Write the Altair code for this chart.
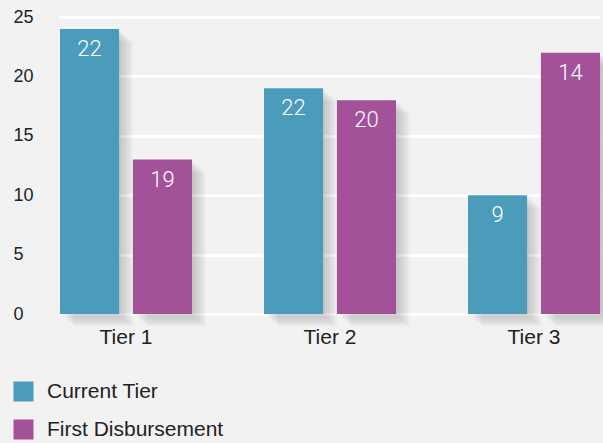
import altair as alt
import pandas as pd

tiers = ["Tier 1", "Tier 2", "Tier 3"]
series = ["Current Tier", "First Disbursement"]
current_heights = [24, 19, 10]
first_heights = [13, 18, 22]
current_labels = [22, 22, 9]
first_labels = [19, 20, 14]
colors = ["#4b9bbb", "#a35299"]

rows = []
for i, t in enumerate(tiers):
    rows.append({"tier": t, "series": series[0], "value": current_heights[i], "label": str(current_labels[i])})
    rows.append({"tier": t, "series": series[1], "value": first_heights[i], "label": str(first_labels[i])})
df = pd.DataFrame(rows)

FONT = "Liberation Sans"
BAND = 132  # pixel width of one tier group on the x band scale

x = alt.X("tier:N", sort=tiers, title=None,
          scale=alt.Scale(paddingInner=0.353, paddingOuter=0),
          axis=alt.Axis(labelAngle=0, labelFontSize=21, labelColor="#222222", labelFont=FONT,
                        labelPadding=12, ticks=False, domain=False, grid=False))


def xo(shift=0):
    return alt.XOffset("series:N", sort=series,
                       scale=alt.Scale(type="band", paddingInner=0.19, paddingOuter=0,
                                       range=[shift, BAND + shift]))


y = alt.Y("value:Q", title=None, scale=alt.Scale(domain=[0, 25], nice=False),
          axis=alt.Axis(values=[0, 5, 10, 15, 20, 25], labelAlign="left", labelPadding=47,
                        labelFontSize=18, labelColor="#222222", labelFont=FONT,
                        ticks=False, domain=False, grid=True, gridColor="#ffffff", gridWidth=3))

base = alt.Chart(df)

shadows = []
for off in [2, 4, 6, 8, 10, 12, 14]:
    shadows.append(base.mark_bar(color="#444444", opacity=0.035, yOffset=off * 0.9)
                   .encode(x=x, xOffset=xo(off), y=y))

bars = base.mark_bar().encode(
    x=x, xOffset=xo(0), y=y,
    color=alt.Color("series:N", sort=series,
                    scale=alt.Scale(domain=series, range=colors),
                    legend=alt.Legend(title=None, orient="none", legendX=-47, legendY=364,
                                      symbolType="square", symbolSize=400, symbolStrokeWidth=0,
                                      symbolOpacity=1, labelFontSize=21, labelFont=FONT,
                                      labelColor="#222222", labelOffset=13, rowPadding=16,
                                      labelLimit=400, padding=0)),
)

labels = base.mark_text(color="white", fontSize=22, font="Roboto", fontWeight=300,
                        baseline="middle", dy=20).encode(
    x=x, xOffset=xo(0), y=y, text="label:N")

chart = alt.layer(*shadows, bars, labels).resolve_scale(
    xOffset="independent"
).properties(
    width=540, height=297,
    background="#f2f2f2",
    padding={"left": 60, "top": 17, "right": 3, "bottom": 129},
    autosize=alt.AutoSizeParams(type="none"),
).configure_view(stroke=None)

chart.save("out.html", embed_options={"renderer": "svg", "actions": False})
